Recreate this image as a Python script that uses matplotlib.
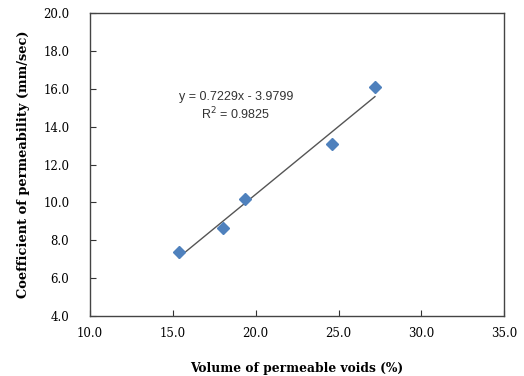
import numpy as np
import matplotlib
matplotlib.use("Agg")
from matplotlib import pyplot as plt

# data
voids = [15.35, 18.02, 19.33, 24.6, 27.2]        # volume of permeable voids (%)
perm = [7.35, 8.65, 10.16, 13.1, 16.08]         # coefficient of permeability (mm/sec)
eq_text = "y = 0.7229x - 3.9799"
r2_text = "R$^2$ = 0.9825"

xticks = [10.0, 15.0, 20.0, 25.0, 30.0, 35.0]
yticks = [4.0, 6.0, 8.0, 10.0, 12.0, 14.0, 16.0, 18.0, 20.0]

fig = plt.figure(figsize=(5.24, 3.76), dpi=100)
ax = fig.add_axes([0.172, 0.160, 0.790, 0.805])

# linear trendline over the data range
slope, icpt = np.polyfit(voids, perm, 1)
xs = np.array([min(voids), max(voids)])
ax.plot(xs, slope * xs + icpt, color="#555555", lw=1.0, zorder=2)
ax.plot(voids, perm, linestyle="none", marker="D", ms=6.5, color="#4F81BD",
        mec="#4F81BD", zorder=3)

ax.set_xlim(10, 35)
ax.set_ylim(4, 20)
ax.set_xticks(xticks)
ax.set_yticks(yticks)
ax.set_xticklabels(["%.1f" % v for v in xticks], family="DejaVu Serif", fontsize=8.5)
ax.set_yticklabels(["%.1f" % v for v in yticks], family="DejaVu Serif", fontsize=8.5)
ax.tick_params(direction="in", length=4, width=0.8, color="#333333")
ax.tick_params(axis="x", pad=8)
ax.tick_params(axis="y", pad=15)
for s in ax.spines.values():
    s.set_color("#444444")
    s.set_linewidth(1.0)

ax.set_xlabel("Volume of permeable voids (%)", family="DejaVu Serif",
              fontweight="bold", fontsize=8.8, labelpad=16)
ax.set_ylabel("Coefficient of permeability (mm/sec)", family="DejaVu Serif",
              fontweight="bold", fontsize=9.4, labelpad=9.5)

ax.text(0.352, 0.724, eq_text, transform=ax.transAxes, ha="center", va="center",
        family="Liberation Sans", fontsize=9, color="#333333")
ax.text(0.352, 0.668, r2_text, transform=ax.transAxes, ha="center", va="center",
        family="Liberation Sans", fontsize=9, color="#333333")

fig.savefig("out.png", dpi=100)
